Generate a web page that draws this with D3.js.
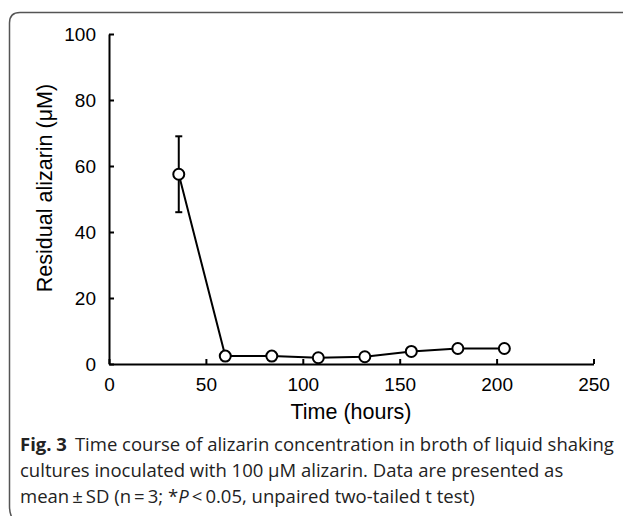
<!DOCTYPE html>
<html>
<head>
<meta charset="utf-8">
<script src="https://cdn.jsdelivr.net/npm/d3@7"></script>
<style>
  body { margin: 0; background: #fff; }
  svg { display: block; }
</style>
</head>
<body>
<div class="chart-wrapper"></div>
<script>
const hours = [36, 60, 84, 108, 132, 156, 180, 204]
const alizarin = [57.5, 2.4, 2.4, 1.9, 2.2, 3.8, 4.7, 4.7]
const sd = [11.5, 0, 0, 0, 0, 0, 0, 0]
const xTicks = [0, 50, 100, 150, 200, 250]
const yTicks = [0, 20, 40, 60, 80, 100]

const width = 623
const height = 516
const margin = {top: 34, right: 30, bottom: 152, left: 109}

const data = hours.map((h, i) => ({hour: h, value: alizarin[i], sd: sd[i]}))

const svg = d3.select('.chart-wrapper')
  .append('svg')
  .attr('width', width)
  .attr('height', height)

// rounded frame, open to the right
svg.append('path')
  .attr('d', 'M 630 12.5 L 20 12.5 Q 9.5 12.5 9.5 23 L 9.5 506 Q 9.5 516 14 520')
  .style('fill', 'none')
  .style('stroke', '#555')
  .style('stroke-width', 1.5)

const x = d3.scaleLinear().domain([0, 250]).range([margin.left, 593.5])
const y = d3.scaleLinear().domain([0, 100]).range([364, margin.top])

const font = "'Liberation Sans', Arial, sans-serif"

// x axis, ticks pointing in
const xaxis = svg.append('g')
  .attr('transform', 'translate(0,364)')
  .call(d3.axisBottom(x).tickValues(xTicks).tickSizeInner(-5).tickSizeOuter(0))
xaxis.select('.domain').style('stroke', '#000').style('stroke-width', 2)
xaxis.selectAll('.tick line').style('stroke', '#000').style('stroke-width', 2)
xaxis.selectAll('text').style('font-family', font).style('font-size', '19px').style('fill', '#000')
  .attr('dy', null).attr('y', 27)

// y axis, ticks pointing in
const yaxis = svg.append('g')
  .attr('transform', `translate(${margin.left},0)`)
  .call(d3.axisLeft(y).tickValues(yTicks).tickSizeInner(-5).tickSizeOuter(0).tickPadding(13))
yaxis.select('.domain').style('stroke', '#000').style('stroke-width', 2)
yaxis.selectAll('.tick line').style('stroke', '#000').style('stroke-width', 2)
yaxis.selectAll('text').style('font-family', font).style('font-size', '19px').style('fill', '#000')

// axis titles
svg.append('text')
  .attr('x', 351)
  .attr('y', 419)
  .attr('text-anchor', 'middle')
  .style('font-family', font)
  .style('font-size', '21.5px')
  .text('Time (hours)')

svg.append('text')
  .attr('transform', 'translate(52,188) rotate(-90)')
  .attr('text-anchor', 'middle')
  .style('font-family', font)
  .style('font-size', '21.5px')
  .text('Residual alizarin (μM)')

// error bars
const bars = svg.append('g').selectAll('g')
  .data(data.filter(d => d.sd > 0))
  .enter()
  .append('g')
bars.append('line')
  .attr('x1', d => x(d.hour)).attr('x2', d => x(d.hour))
  .attr('y1', d => y(d.value + d.sd)).attr('y2', d => y(d.value - d.sd))
  .style('stroke', '#000').style('stroke-width', 2)
bars.selectAll('.cap')
  .data(d => [d.value + d.sd, d.value - d.sd].map(v => ({hour: d.hour, v})))
  .enter()
  .append('line')
  .attr('class', 'cap')
  .attr('x1', d => x(d.hour) - 3.5).attr('x2', d => x(d.hour) + 3.5)
  .attr('y1', d => y(d.v)).attr('y2', d => y(d.v))
  .style('stroke', '#000').style('stroke-width', 2)

const line = d3.line()
  .x(d => x(d.hour))
  .y(d => y(d.value))

svg.append('path')
  .datum(data)
  .attr('d', line)
  .style('fill', 'none')
  .style('stroke', '#000')
  .style('stroke-width', 2)

svg.append('g').selectAll('circle')
  .data(data)
  .enter()
  .append('circle')
  .attr('cx', d => x(d.hour))
  .attr('cy', d => y(d.value))
  .attr('r', 5.5)
  .style('fill', '#fff')
  .style('stroke', '#000')
  .style('stroke-width', 2)

// caption
const capFont = "'Open Sans', 'Noto Sans', sans-serif"
const cap = svg.append('g')
  .style('font-family', capFont)
  .style('font-size', '18.5px')
  .style('fill', '#222')

const l1 = cap.append('text').attr('x', 20).attr('y', 451)
l1.append('tspan').style('font-weight', 'bold').text('Fig. 3')
l1.append('tspan').attr('dx', 8).text('Time course of alizarin concentration in broth of liquid shaking')

cap.append('text').attr('x', 20).attr('y', 477)
  .text('cultures inoculated with 100 μM alizarin. Data are presented as')

const l3 = cap.append('text').attr('x', 20).attr('y', 503)
l3.append('tspan').text('mean\u2009±\u2009SD (n\u2009=\u20093; *')
l3.append('tspan').style('font-style', 'italic').text('P')
l3.append('tspan').text('\u2009<\u20090.05, unpaired two-tailed t test)')
</script>
</body>
</html>
